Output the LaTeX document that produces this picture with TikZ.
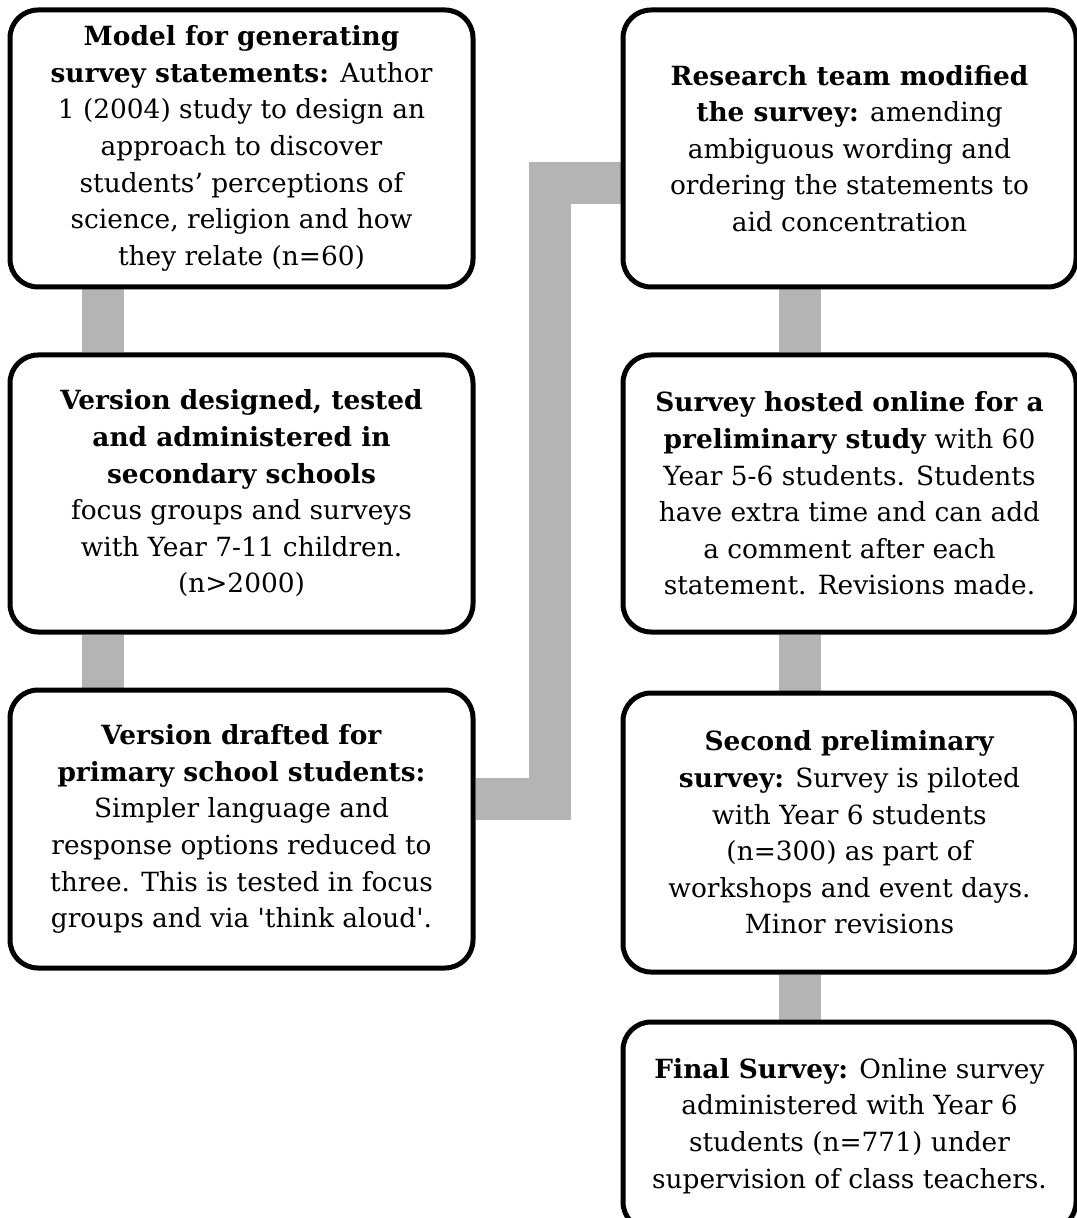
\documentclass[tikz,border=0pt]{standalone}
\usepackage{fontspec}
\setmainfont{DejaVu Serif}
\usepackage{tikz}
\usetikzlibrary{backgrounds}
\definecolor{linkgray}{RGB}{180,180,180}
\tikzset{
    stagebox/.style={draw, line width=2.5pt, rounded corners=14pt, fill=white,
        minimum width=231.5pt, minimum height=138.5pt, inner sep=0pt,
        align=center, font=\fontsize{13.2}{18.3}\selectfont},
    link/.style={draw=linkgray, line width=21pt}
}

\begin{document}
\begin{tikzpicture}[x=0.5pt, y=-0.5pt]
    \useasboundingbox (0,0) rectangle (1076,1218);
    \node[stagebox] at (241.5,148.5) (model) {\textbf{Model for generating}\\
        \textbf{survey statements:} Author\\ 1 (2004) study to design an\\
        approach to discover\\ students’ perceptions of\\
        science, religion and how\\ they relate (n=60)};
    \node[stagebox] at (241.5,493.5) (secondary) {\textbf{Version designed, tested}\\
        \textbf{and administered in}\\ \textbf{secondary schools}\\
        focus groups and surveys\\ with Year 7-11 children.\\ (n>2000)};
    \node[stagebox, minimum height=139pt] at (241.5,829) (primary) {\textbf{Version drafted for}\\
        \textbf{primary school students:}\\ Simpler language and\\
        response options reduced to\\ three. This is tested in focus\\
        groups and via \textquotesingle think aloud\textquotesingle.};
    \node[stagebox, minimum width=226.5pt] at (849.5,148.5) (modified) {\textbf{Research team modified}\\
        \textbf{the survey:} amending\\ ambiguous wording and\\
        ordering the statements to\\ aid concentration};
    \node[stagebox, minimum width=226.5pt] at (849.5,493.5) (online) {\textbf{Survey hosted online for a}\\
        \textbf{preliminary study} with 60\\ Year 5-6 students. Students\\
        have extra time and can add\\ a comment after each\\
        statement. Revisions made.};
    \node[stagebox, minimum width=226.5pt, minimum height=139.5pt] at (849.5,832.5) (pilot) {\textbf{Second preliminary}\\
        \textbf{survey:} Survey is piloted\\ with Year 6 students\\
        (n=300) as part of\\ workshops and event days.\\ Minor revisions};
    \node[stagebox, minimum width=226.5pt, minimum height=104pt] at (849.5,1126) (final) {\textbf{Final Survey:} Online survey\\
        administered with Year 6\\ students (n=771) under\\
        supervision of class teachers.};
    \begin{scope}[on background layer]
        \draw[link] ([xshift=47.5pt]model.south west) -- ([xshift=47.5pt]secondary.north west);
        \draw[link] ([xshift=47.5pt]secondary.south west) -- ([xshift=47.5pt]primary.north west);
        \draw[link] ([yshift=15.25pt]primary.east) -- ++(74.5,0) |- ([yshift=-17.5pt]modified.west);
        \draw[link] ([xshift=89.75pt]modified.south west) -- ([xshift=89.75pt]online.north west);
        \draw[link] ([xshift=89.75pt]online.south west) -- ([xshift=89.75pt]pilot.north west);
        \draw[link] ([xshift=89.75pt]pilot.south west) -- ([xshift=89.75pt]final.north west);
    \end{scope}
\end{tikzpicture}
\end{document}
